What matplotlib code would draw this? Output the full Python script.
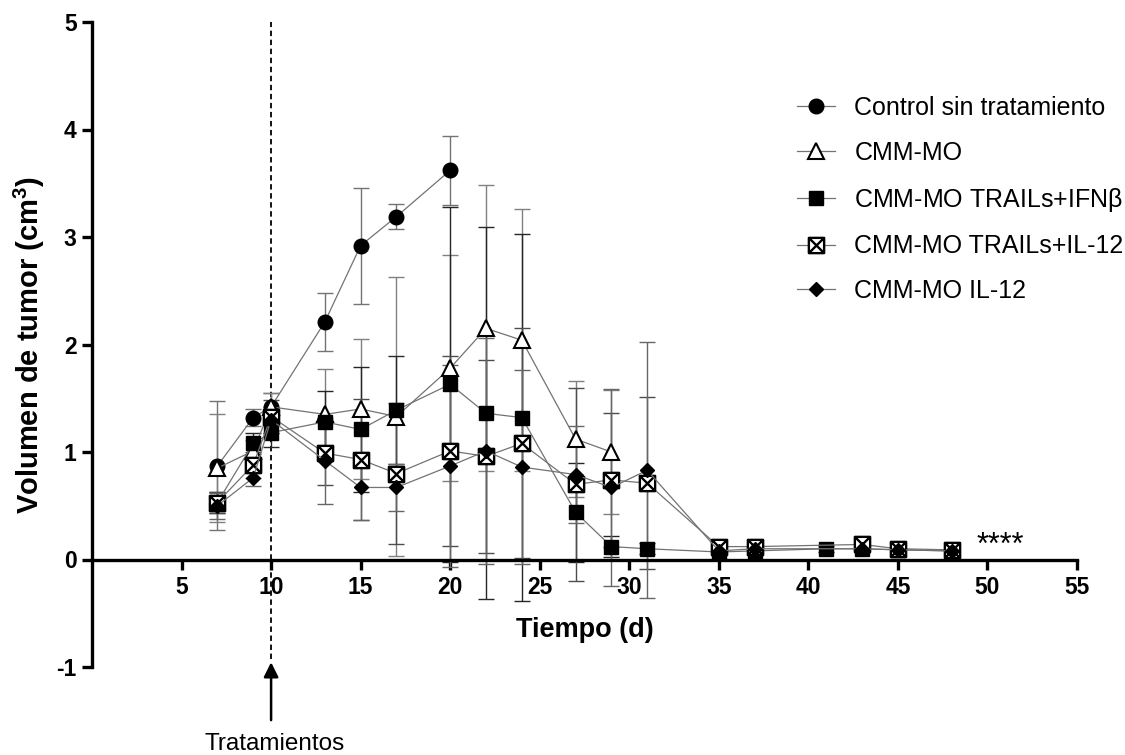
import numpy as np
import matplotlib
matplotlib.use('Agg')
import matplotlib.pyplot as plt
from matplotlib.path import Path

plt.rcParams['font.family'] = ['Liberation Sans', 'DejaVu Sans']
plt.rcParams['axes.unicode_minus'] = False

# tumour volume (cm3) vs day, mean and error bar half-width
days_ctrl = [7, 9, 10, 13, 15, 17, 20]
ctrl = [0.87, 1.32, 1.42, 2.21, 2.92, 3.19, 3.62]
ctrl_err = [0.60, 0.08, 0.13, 0.27, 0.54, 0.12, 0.32]

days_mo = [7, 9, 10, 13, 15, 17, 20, 22, 24, 27, 29]
mo = [0.85, 1.01, 1.42, 1.35, 1.40, 1.33, 1.78, 2.15, 2.04, 1.12, 1.00]
mo_err = [0.50, 0.10, 0.13, 0.42, 0.65, 1.30, 1.05, 1.33, 1.22, 0.54, 0.58]

days_ifn = [7, 9, 10, 13, 15, 17, 20, 22, 24, 27, 29, 31, 35, 37, 41, 43, 45, 48]
ifn = [0.53, 1.08, 1.18, 1.28, 1.21, 1.39, 1.63, 1.36, 1.32, 0.44, 0.12, 0.10,
       0.07, 0.08, 0.10, 0.10, 0.09, 0.08]
ifn_err = [0.10, 0.10, 0.13, 0.29, 0.58, 0.50, 1.65, 1.73, 1.71, 0.46, 0.10, 0.05,
           0.03, 0.03, 0.03, 0.03, 0.03, 0.02]

days_il12t = [7, 9, 10, 13, 15, 17, 20, 22, 24, 27, 29, 31, 35, 37, 43, 45, 48]
il12t = [0.53, 0.88, 1.33, 0.99, 0.93, 0.80, 1.01, 0.96, 1.08, 0.70, 0.74, 0.71,
         0.12, 0.12, 0.14, 0.10, 0.09]
il12t_err = [0.10, 0.12, 0.15, 0.30, 0.56, 0.66, 0.88, 0.90, 1.07, 0.90, 0.62, 0.80,
             0.03, 0.03, 0.03, 0.03, 0.02]

days_il12 = [7, 9, 10, 13, 15, 17, 20, 22, 24, 27, 29, 31, 35, 37, 43, 45, 48]
il12 = [0.50, 0.76, 1.30, 0.92, 0.67, 0.67, 0.87, 1.01, 0.86, 0.79, 0.67, 0.83,
        0.08, 0.10, 0.10, 0.09, 0.08]
il12_err = [0.12, 0.08, 0.12, 0.40, 0.30, 0.22, 0.94, 1.05, 0.90, 0.45, 0.92, 1.19,
            0.03, 0.03, 0.03, 0.03, 0.02]

labels = ['Control sin tratamiento', 'CMM-MO', r'CMM-MO TRAILs+IFN$\mathregular{\beta}$',
          'CMM-MO TRAILs+IL-12', 'CMM-MO IL-12']

# square with a cross inside
boxx = Path([(-1, -1), (1, -1), (1, 1), (-1, 1), (-1, -1),
             (-1, -1), (1, 1), (-1, 1), (1, -1)],
            [Path.MOVETO, Path.LINETO, Path.LINETO, Path.LINETO, Path.CLOSEPOLY,
             Path.MOVETO, Path.LINETO, Path.MOVETO, Path.LINETO])

fig = plt.figure(figsize=(11.25, 7.55), dpi=100)
ax = fig.add_axes([92/1125, 1-667/755, 985/1125, 645/755])

series = [
    (days_ctrl, ctrl, ctrl_err, dict(marker='o', ms=10.5, mfc='k', mec='k'), '0.45'),
    (days_mo, mo, mo_err, dict(marker='^', ms=11.5, mfc='white', mec='k', mew=1.5), '0.5'),
    (days_ifn, ifn, ifn_err, dict(marker='s', ms=10, mfc='k', mec='k'), '0.15'),
    (days_il12t, il12t, il12t_err, dict(marker=boxx, ms=11, mfc='white', mec='k', mew=1.7), '0.3'),
    (days_il12, il12, il12_err, dict(marker='D', ms=7, mfc='k', mec='k'), '0.4'),
]

for (d, v, e, mk, ec), lab in zip(series, labels):
    ax.errorbar(d, v, yerr=e, fmt='none', ecolor=ec, elinewidth=1.0,
                capsize=6, capthick=1.0, zorder=2)
    ax.plot(d, v, color='0.45', lw=0.9, label=lab, zorder=3, **mk)

ax.set_xlim(0, 55)
ax.set_ylim(-1, 5)
ax.spines['top'].set_visible(False)
ax.spines['right'].set_visible(False)
ax.spines['bottom'].set_position(('data', 0))
ax.spines['left'].set_linewidth(2.4)
ax.spines['bottom'].set_linewidth(2.4)

ax.set_xticks(np.arange(5, 56, 5))
ax.set_yticks(np.arange(-1, 6, 1))
ax.set_xticklabels([str(v) for v in range(5, 56, 5)], fontsize=16.5, fontweight='bold')
ax.set_yticklabels([str(v) for v in range(-1, 6)], fontsize=16.5, fontweight='bold')
ax.tick_params(axis='both', direction='out', length=7, width=2.4)
ax.tick_params(axis='x', pad=5)
ax.tick_params(axis='y', pad=4)

ax.set_xlabel('Tiempo (d)', fontsize=19.5, fontweight='bold')
ax.xaxis.set_label_coords(0.5, 0.078)
ax.set_ylabel(r'Volumen de tumor (cm$\mathregular{^3}$)', fontsize=21, fontweight='bold')
ax.yaxis.set_label_coords(-0.046, 0.5)

# treatment marker at day 10
ax.plot([10, 10], [-0.93, 5], color='k', lw=1.3, ls=(0, (3, 2)), clip_on=False, zorder=1)
ax.annotate('', xy=(10, -0.93), xytext=(10, -1.52), annotation_clip=False,
            arrowprops=dict(arrowstyle='-|>', color='k', lw=1.8, mutation_scale=22))
ax.text(10.2, -1.775, 'Tratamientos', fontsize=17.5, ha='center', va='baseline', clip_on=False)

ax.text(50.7, 0.13, '****', fontsize=22, ha='center', va='center')

ax.legend(loc='upper left', bbox_to_anchor=(797/1125, 1-96/755), bbox_transform=fig.transFigure,
          frameon=False, fontsize=18, handlelength=1.5, handletextpad=0.8,
          labelspacing=0.83, borderpad=0, borderaxespad=0)

fig.savefig('out.png', dpi=100)
